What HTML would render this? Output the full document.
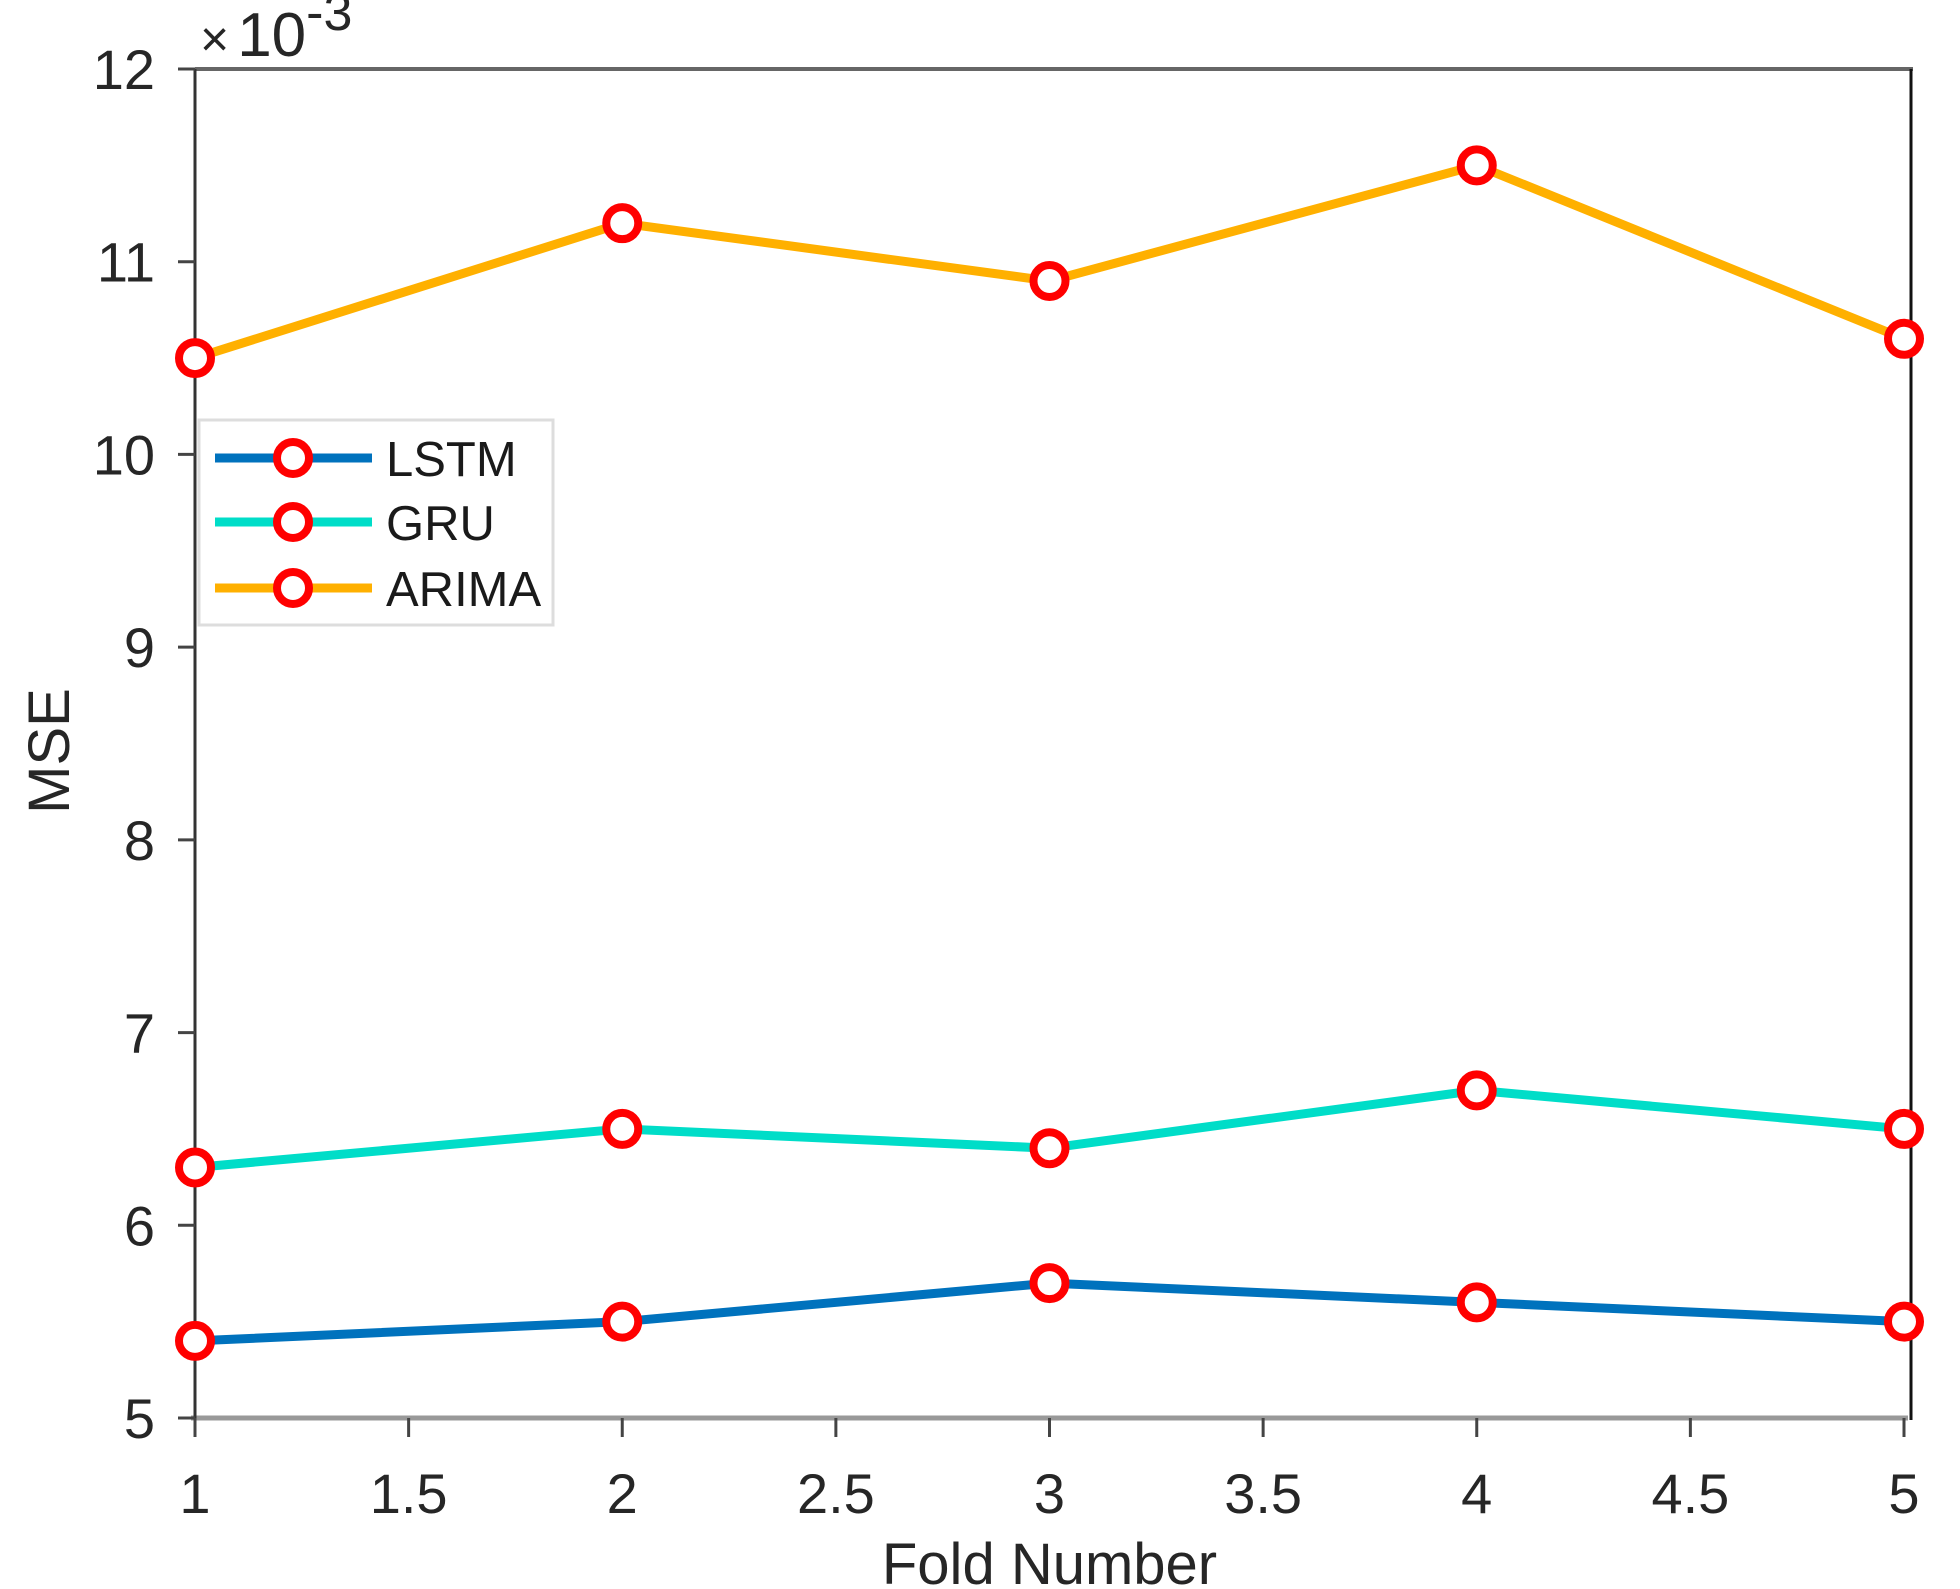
<!DOCTYPE html>
<html><head><meta charset="utf-8">
<style>
html,body{margin:0;padding:0;background:#fff;}
svg{display:block;font-family:"Liberation Sans",Arial,sans-serif;}
</style></head>
<body>
<svg id="chart" width="1960" height="1589" viewBox="0 0 1960 1589" xmlns="http://www.w3.org/2000/svg">
  <rect x="0" y="0" width="1960" height="1589" fill="#fff"/>
  <g id="axes"></g>
  <g id="series"></g>
  <g id="legend"></g>
</svg>
<script>
const folds = [1, 2, 3, 4, 5];
const lstmValues = [5.4, 5.5, 5.7, 5.6, 5.5];
const gruValues = [6.3, 6.5, 6.4, 6.7, 6.5];
const arimaValues = [10.5, 11.2, 10.9, 11.5, 10.6];
const seriesNames = ['LSTM', 'GRU', 'ARIMA'];
const xTicks = [1, 1.5, 2, 2.5, 3, 3.5, 4, 4.5, 5];
const xTickLabels = ['1', '1.5', '2', '2.5', '3', '3.5', '4', '4.5', '5'];
const yTicks = [5, 6, 7, 8, 9, 10, 11, 12];
const yTickLabels = ['5', '6', '7', '8', '9', '10', '11', '12'];

const NS = 'http://www.w3.org/2000/svg';
const X0 = 195, X1 = 1904, Y0 = 1418, Y1 = 69;
const xMin = 1, xMax = 5, yMin = 5, yMax = 12;
function xs(v){ return X0 + (v - xMin) / (xMax - xMin) * (X1 - X0); }
function ys(v){ return Y0 - (v - yMin) / (yMax - yMin) * (Y0 - Y1); }
function mk(tag, attrs, parent){
  const e = document.createElementNS(NS, tag);
  for (const k in attrs) e.setAttribute(k, attrs[k]);
  parent.appendChild(e);
  return e;
}
const axes = document.getElementById('axes');
const seriesG = document.getElementById('series');
const legend = document.getElementById('legend');

let el;
el = mk('line', {x1: X0, y1: Y1, x2: 1913, y2: Y1, stroke: '#666', 'stroke-width': 4}, axes);


el = mk('line', {x1: 1911, y1: Y1, x2: 1911, y2: Y0 + 2, stroke: '#111', 'stroke-width': 3}, axes);


el = mk('line', {x1: X0 - 4, y1: Y0, x2: 1908, y2: Y0, stroke: '#999', 'stroke-width': 5}, axes);


el = mk('line', {x1: X0, y1: Y1, x2: X0, y2: Y0 + 19, stroke: '#333', 'stroke-width': 3}, axes);



xTicks.forEach((t, i) => {
  const x = xs(t);
  const tk = mk('line', {x1: x, y1: Y0, x2: x, y2: Y0 + 19, stroke: '#444', 'stroke-width': 3}, axes);
  
  
  const lb = mk('text', {x: x, y: 1513, 'font-size': 56, 'text-anchor': 'middle', fill: '#262626'}, axes);
  lb.textContent = xTickLabels[i];
  
  
});
yTicks.forEach((t, i) => {
  const y = ys(t);
  const tk = mk('line', {x1: X0 - 17, y1: y, x2: X0, y2: y, stroke: '#444', 'stroke-width': 3}, axes);
  
  
  const lb = mk('text', {x: 155, y: y + 20, 'font-size': 56, 'text-anchor': 'end', fill: '#262626'}, axes);
  lb.textContent = yTickLabels[i];
  
  
});
el = mk('text', {x: xs(3), y: 1584, 'font-size': 58, 'text-anchor': 'middle', fill: '#262626'}, axes);
el.textContent = 'Fold Number';


el = mk('text', {x: 0, y: 0, 'font-size': 58, 'text-anchor': 'middle', fill: '#262626', transform: 'translate(69,751) rotate(-90)'}, axes);
el.textContent = 'MSE';


el = mk('text', {x: 200, y: 56, 'font-size': 62, fill: '#262626'}, axes);


el.innerHTML = '<tspan font-size="50">×</tspan><tspan dx="8">10</tspan><tspan dy="-26" font-size="52">-3</tspan>';

const colors = ['#0072BD', '#00DDC8', '#FFB000'];
const allValues = [lstmValues, gruValues, arimaValues];
allValues.forEach((vals, si) => {
  const g = mk('g', {}, seriesG);
  
  
  const pts = vals.map((v, i) => xs(folds[i]) + ',' + ys(v)).join(' ');
  const pl = mk('polyline', {points: pts, fill: 'none', stroke: colors[si], 'stroke-width': 9, 'stroke-linejoin': 'round'}, g);
  
  
  vals.forEach((v, i) => {
    const c = mk('circle', {cx: xs(folds[i]), cy: ys(v), r: 16, fill: '#fff', stroke: '#FF0000', 'stroke-width': 8}, g);
    
    
  });
});

el = mk('rect', {x: 199, y: 420, width: 354, height: 205, fill: '#fff', stroke: '#ddd', 'stroke-width': 3}, legend);


const legendY = [458, 522, 588];
seriesNames.forEach((n, i) => {
  const g = mk('g', {}, legend);
  
  
  mk('line', {x1: 215, y1: legendY[i], x2: 372, y2: legendY[i], stroke: colors[i], 'stroke-width': 9}, g);
  mk('circle', {cx: 293, cy: legendY[i], r: 16, fill: '#fff', stroke: '#FF0000', 'stroke-width': 8}, g);
  const t = mk('text', {x: 386, y: legendY[i] + 18, 'font-size': 49, fill: '#1a1a1a'}, g);
  t.textContent = n;
});
</script>
</body></html>
